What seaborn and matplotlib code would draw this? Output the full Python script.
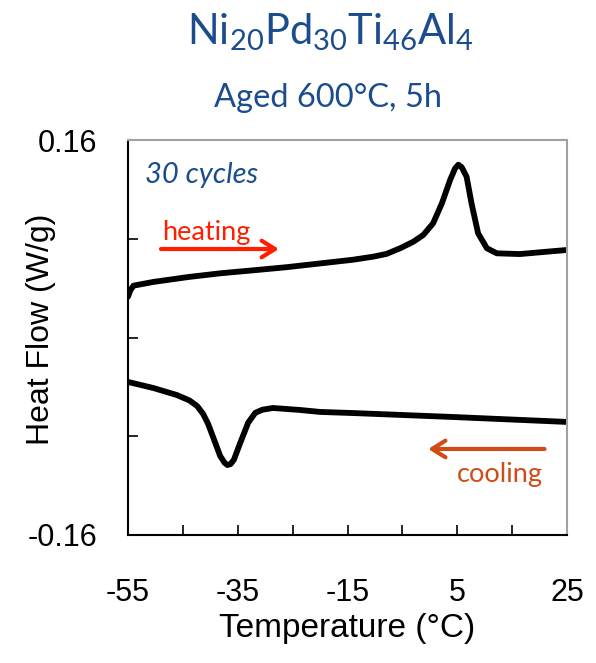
import matplotlib
matplotlib.use("Agg")
import matplotlib.pyplot as plt
import seaborn as sns
import pandas as pd

# ---- data ----
heat_temp = [-55.0, -54.6, -54.0, -50.4, -44.0, -38.2, -32.0, -26.0, -20.0, -14.0, -10.3,
             -7.9, -5.4, -3.0, -1.2, 0.6, 2.2, 3.7, 4.6, 5.2, 5.8, 6.7, 7.6, 8.8, 10.4,
             12.2, 16.4, 21.3, 25.0]
heat_flow = [0.033, 0.038, 0.042, 0.045, 0.049, 0.052, 0.0545, 0.057, 0.060, 0.063, 0.0655,
             0.0677, 0.0723, 0.0776, 0.0830, 0.0925, 0.1087, 0.1276, 0.1370, 0.1400, 0.1380,
             0.1303, 0.1087, 0.0844, 0.0723, 0.0682, 0.0676, 0.0695, 0.0709]

cool_temp = [-55.0, -50.4, -46.1, -43.8, -42.4, -41.3, -40.4, -39.5, -38.2, -37.4, -36.9,
             -36.3, -35.7, -34.6, -33.1, -31.8, -30.5, -28.6, -23.7, -20.0, -14.0, 4.2, 25.0]
cool_flow = [-0.0360, -0.0409, -0.0466, -0.0510, -0.0555, -0.0620, -0.0700, -0.0806, -0.0960,
             -0.1015, -0.1033, -0.1025, -0.0990, -0.0860, -0.0690, -0.0610, -0.0585, -0.0571,
             -0.0587, -0.0603, -0.0612, -0.0644, -0.0684]

x_ticks = [-55, -45, -35, -25, -15, -5, 5, 15, 25]
x_ticklabels = ["-55", "", "-35", "", "-15", "", "5", "", "25"]
y_ticks = [-0.16, -0.08, 0.0, 0.08, 0.16]
y_ticklabels = ["-0.16", "", "", "", "0.16"]

title_text = r"$\mathrm{Ni_{20}Pd_{30}Ti_{46}Al_{4}}$"
subtitle_text = "Aged 600°C, 5h"

sns.set_theme(style="white")
plt.rcParams["font.family"] = ["Liberation Sans", "DejaVu Sans"]
plt.rcParams["mathtext.fontset"] = "custom"
plt.rcParams["mathtext.rm"] = "Lato"
plt.rcParams["mathtext.it"] = "Lato:italic"

BLUE = "#1b4d8e"
RED = "#ff1f00"
ORANGE = "#d04c16"

fig = plt.figure(figsize=(5.96, 6.63), dpi=100)
ax = fig.add_axes([128 / 596, 1 - 535 / 663, (567 - 128) / 596, (535 - 140) / 663])

df_h = pd.DataFrame({"T": heat_temp, "Q": heat_flow})
df_c = pd.DataFrame({"T": cool_temp, "Q": cool_flow})
for d in (df_h, df_c):
    sns.lineplot(data=d, x="T", y="Q", ax=ax, sort=False, estimator=None,
                 color="black", linewidth=4.2, solid_joinstyle="round",
                 solid_capstyle="round")

ax.set_xlim(-55, 25)
ax.set_ylim(-0.16, 0.16)
ax.set_xticks(x_ticks)
ax.set_xticklabels(x_ticklabels)
ax.set_yticks(y_ticks)
ax.set_yticklabels(y_ticklabels)
ax.tick_params(axis="both", direction="in", length=7, width=1.2, color="black",
               labelsize=22, labelcolor="black")
ax.tick_params(axis="x", pad=31, bottom=True)
ax.tick_params(axis="y", pad=22, left=True)

for s in ["left", "bottom"]:
    ax.spines[s].set_color("black")
    ax.spines[s].set_linewidth(1.5)
for s in ["top", "right"]:
    ax.spines[s].set_color("#a0a0a0")
    ax.spines[s].set_linewidth(1.5)

ax.set_xlabel("Temperature (°C)", fontsize=24, color="black")
ax.set_ylabel("Heat Flow (W/g)", fontsize=23, color="black")
ax.xaxis.set_label_coords(0.5, -0.198)
ax.yaxis.set_label_coords(-0.165, 0.52)

fig.text(0.555, 1 - 44 / 663, title_text, fontsize=30, color=BLUE,
         ha="center", va="baseline")
fig.text(0.551, 1 - 107 / 663, subtitle_text, fontsize=23.5, color=BLUE,
         ha="center", va="baseline", family=["Lato", "DejaVu Sans"])

ax.text(-51.9, 0.125, "30 cycles", fontsize=21, color=BLUE, style="italic",
        family=["Lato", "DejaVu Sans"], va="baseline", ha="left")
ax.text(-48.8, 0.079, "heating", fontsize=19.5, color=RED,
        family=["Lato", "DejaVu Sans"], va="baseline", ha="left")
ax.annotate("", xy=(-27.0, 0.0717), xytext=(-49.5, 0.0717),
            arrowprops=dict(arrowstyle="->,head_length=0.8,head_width=0.5",
                            color=RED, lw=3))
ax.text(4.95, -0.117, "cooling", fontsize=19.5, color=ORANGE,
        family=["Lato", "DejaVu Sans"], va="baseline", ha="left")
ax.annotate("", xy=(-0.8, -0.0903), xytext=(21.4, -0.0903),
            arrowprops=dict(arrowstyle="->,head_length=0.8,head_width=0.5",
                            color=ORANGE, lw=3))

fig.savefig("out.png", dpi=100)
